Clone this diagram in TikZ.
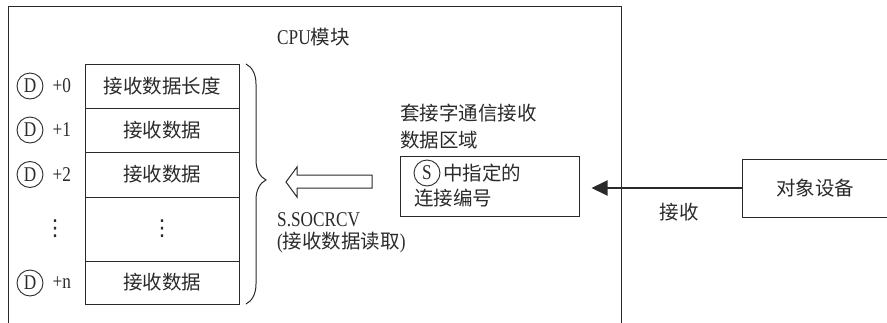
\documentclass[tikz,border=0pt]{standalone}
\usepackage{fontspec}
\setmainfont{Liberation Serif}
\newfontfamily\latf[FakeStretch=0.82]{Liberation Serif}
\newfontfamily\cjk{Noto Sans CJK SC}
\newfontfamily\symf{DejaVu Sans}
\usetikzlibrary{decorations.pathreplacing,arrows.meta}
\definecolor{ink}{HTML}{2A2A2A}
\begin{document}
\begin{tikzpicture}[x=1pt,y=-1pt,
  line/.style={draw=ink, line width=1pt},
  cell/.style={draw=ink, line width=1pt, minimum width=154pt, inner sep=0pt,
    font=\cjk\fontsize{19.5}{19.5}\selectfont, text=ink},
  lat/.style={font=\latf\fontsize{21}{21}\selectfont, text=ink, inner sep=0pt},
  cjkt/.style={font=\cjk\fontsize{19.5}{21}\selectfont, text=ink, inner sep=0pt},
  circ/.style={circle, draw=ink, line width=0.9pt, minimum size=26pt, inner sep=0pt,
    font=\latf\fontsize{21}{21}\selectfont, text=ink},
  vdots/.style={font=\symf\fontsize{22}{22}\selectfont, text=ink, inner sep=0pt}]
\useasboundingbox (0,0) rectangle (887,322);

% CPU module frame
\coordinate (cbl) at (8,323);
\coordinate (ctl) at (8,6);
\coordinate (ctr) at (621,6);
\coordinate (cbr) at (621,323);
\draw[line] (cbl) -- (ctl) -- (ctr) -- (cbr);
\node[lat, anchor=west] (cpu) at (277,37) {CPU{\cjk\fontsize{19.5}{19.5}\selectfont 模块}};

% table
\node[cell, minimum height=44pt] (r0) at (162,86) {接收数据长度};
\node[cell, minimum height=44pt] (r1) at (162,130) {接收数据};
\node[cell, minimum height=45pt] (r2) at (162,174.5) {接收数据};
\node[cell, minimum height=64pt] (r3) at (162,229) {};
\node[vdots] (r3d) at (r3.center) {⋮};
\node[cell, minimum height=43pt] (r4) at (162,282.5) {接收数据};

% D labels
\node[circ] (d0) at (30,86) {D};
\node[lat, anchor=west] (p0) at (52.5,86) {+0};
\node[circ] (d1) at (30,130) {D};
\node[lat, anchor=west] (p1) at (52.5,130) {+1};
\node[circ] (d2) at (30,174.5) {D};
\node[lat, anchor=west] (p2) at (52.5,174.5) {+2};
\node[vdots] (dd) at (55,229) {⋮};
\node[circ] (dn) at (30,283) {D};
\node[lat, anchor=west] (pn) at (52.5,283) {+n};

% brace
\coordinate (btop) at (246,64);
\coordinate (bbot) at (246,304);
\draw[line, decorate, decoration={brace, amplitude=20pt, aspect=0.483}] (btop) -- (bbot);

% hollow arrow
\draw[line] (286,182) -- (297,167) -- (297,175) -- (372,175) -- (372,188)
  -- (297,188) -- (297,197) -- cycle;
\node[lat, anchor=west] (cmd) at (277,220) {S.SOCRCV};
\node[cjkt, anchor=west] (cmdn) at (277,243) {{\latf\fontsize{21}{21}\selectfont(}接收数据读取{\latf\fontsize{21}{21}\selectfont)}};

% receive area
\node[cjkt, anchor=west] (t1) at (400,113) {套接字通信接收};
\node[cjkt, anchor=west] (t2) at (400,140) {数据区域};
\node[line, minimum width=179pt, minimum height=60pt, inner sep=0pt] (area) at (489.5,186) {};
\node[circ] (s) at (427,173) {S};
\node[cjkt, anchor=west] (t3) at (443,173) {中指定的};
\node[cjkt, anchor=west] (t4) at (414,198) {连接编号};

% device
\node[cell, minimum width=146pt, minimum height=58pt] (dev) at (815,188) {对象设备};
\draw[draw=ink, line width=2pt, -{Triangle[length=16pt,width=15pt]}, shorten >=12pt]
  (dev.west) -- (dev.west -| area.east);
\node[cjkt] (rx) at (679,212) {接收};
\end{tikzpicture}
\end{document}
